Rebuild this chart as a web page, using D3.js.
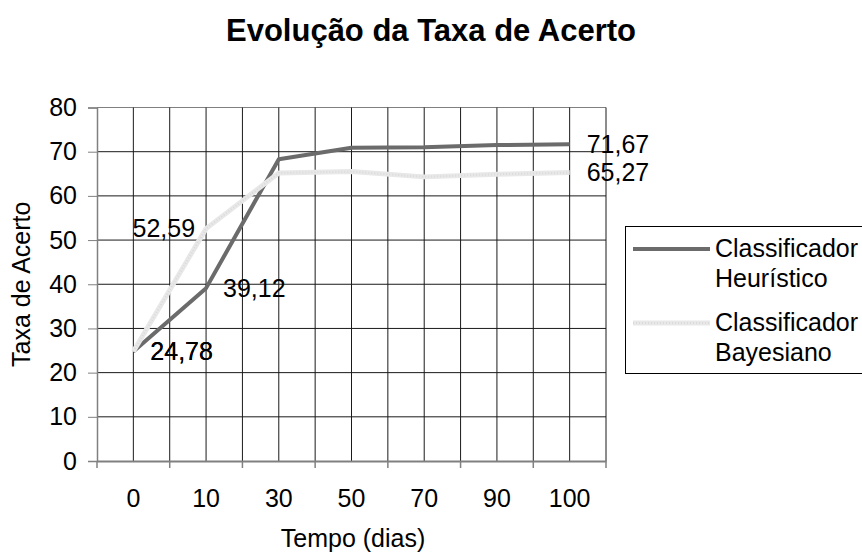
<!DOCTYPE html>
<html>
<head>
<meta charset="utf-8">
<script src="https://cdn.jsdelivr.net/npm/d3@7"></script>
<style>
  body { margin: 0; background: #fff; }
  svg { display: block; font-family: "Liberation Sans", Arial, sans-serif; }
</style>
</head>
<body>
<script>
// Time points (days) shown along the x axis
const categories = ["0", "10", "30", "50", "70", "90", "100"];
// Accuracy rate per classifier
const heuristico = [24.78, 39.12, 68.3, 70.9, 71.0, 71.5, 71.67];
const bayesiano  = [24.78, 52.59, 65.2, 65.5, 64.3, 64.9, 65.27];
const yTicks = [0, 10, 20, 30, 40, 50, 60, 70, 80];
const seriesNames = [["Classificador", "Heurístico"], ["Classificador", "Bayesiano"]];
// Indices of points that carry a value label
const labelledPoints = [0, 1, 6];

const W = 862, H = 554;
const M = { left: 97, right: 256, top: 107.5, bottom: 93 };

const svg = d3.select("body").append("svg").attr("width", W).attr("height", H);

const x = d3.scaleBand().domain(categories).range([M.left, W - M.right]).padding(0);
const y = d3.scaleLinear().domain([0, 80]).range([H - M.bottom, M.top]);
const cx = c => x(c) + x.bandwidth() / 2;
const fmt = v => d3.format(".2f")(v).replace(".", ",");

// Title
svg.append("text")
  .attr("x", 431).attr("y", 41)
  .attr("text-anchor", "middle")
  .attr("font-size", 31).attr("font-weight", "bold")
  .text("Evolução da Taxa de Acerto");

// Grid: horizontal lines at every tick, vertical lines at band edges and centres
const grid = svg.append("g").attr("stroke", "#1a1a1a").attr("stroke-width", 1);
grid.selectAll("line.h").data(yTicks.slice(1)).join("line")
  .attr("x1", M.left).attr("x2", W - M.right)
  .attr("y1", d => y(d)).attr("y2", d => y(d))
  .attr("stroke", d => d === 80 ? "#808080" : "#1a1a1a");
const vPos = [];
categories.forEach(c => { vPos.push(x(c) + x.bandwidth()); vPos.push(cx(c)); });
grid.selectAll("line.v").data(vPos).join("line")
  .attr("x1", d => d).attr("x2", d => d)
  .attr("y1", y(80)).attr("y2", y(0));

// Y axis
const yAxis = svg.append("g")
  .attr("transform", `translate(${M.left},0)`)
  .call(d3.axisLeft(y).tickValues(yTicks).tickSize(9).tickPadding(11));
yAxis.selectAll("text").attr("font-size", 25).attr("fill", "#000").attr("font-family", "Liberation Sans, Arial, sans-serif");
yAxis.selectAll("line").attr("stroke", "#808080");
yAxis.select(".domain").attr("stroke", "#808080").attr("stroke-width", 1.5);

// X axis: labels centred on bands, ticks on band boundaries
const xAxis = svg.append("g")
  .attr("transform", `translate(0,${y(0)})`)
  .call(d3.axisBottom(x).tickSize(0).tickPadding(28));
xAxis.selectAll("text").attr("font-size", 25).attr("fill", "#000").attr("font-family", "Liberation Sans, Arial, sans-serif");
xAxis.select(".domain").attr("stroke", "#808080").attr("stroke-width", 2);
const edges = [M.left].concat(categories.map(c => x(c) + x.bandwidth()));
xAxis.selectAll("line.edge").data(edges).join("line")
  .attr("class", "edge")
  .attr("x1", d => d).attr("x2", d => d)
  .attr("y1", 0).attr("y2", 7)
  .attr("stroke", "#808080").attr("stroke-width", 1.5);

// Axis titles
svg.append("text")
  .attr("transform", `translate(30,${(y(0) + y(80)) / 2}) rotate(-90)`)
  .attr("text-anchor", "middle").attr("font-size", 25)
  .text("Taxa de Acerto");
svg.append("text")
  .attr("x", 353).attr("y", 547)
  .attr("text-anchor", "middle").attr("font-size", 25)
  .text("Tempo (dias)");

// Series lines
const line = d3.line().x((d, i) => cx(categories[i])).y(d => y(d));
svg.append("path").datum(heuristico)
  .attr("d", line).attr("fill", "none")
  .attr("stroke", "#6b6b6b").attr("stroke-width", 4).attr("stroke-linejoin", "round");
svg.append("path").datum(bayesiano)
  .attr("d", line).attr("fill", "none")
  .attr("stroke", "#e8e8e8").attr("stroke-width", 5).attr("stroke-linejoin", "round");
svg.append("path").datum(bayesiano)
  .attr("d", line).attr("fill", "none")
  .attr("stroke", "#dadada").attr("stroke-width", 2).attr("stroke-dasharray", "1,2");

// Value labels: to the right of the point, except where the Bayesian label would sit on the other line
function addLabels(values, leftSide) {
  labelledPoints.forEach(i => {
    const left = leftSide.includes(i);
    svg.append("text")
      .attr("x", cx(categories[i]) + (left ? -11 : 17))
      .attr("y", y(values[i]))
      .attr("dy", "0.35em")
      .attr("text-anchor", left ? "end" : "start")
      .attr("font-size", 25)
      .text(fmt(values[i]));
  });
}
addLabels(heuristico, []);
addLabels(bayesiano, [1]);

// Legend
const lg = svg.append("g");
lg.append("rect")
  .attr("x", 625.5).attr("y", 226.5).attr("width", 260).attr("height", 147)
  .attr("fill", "#fff").attr("stroke", "#000").attr("stroke-width", 1);
const legendStyles = [
  { stroke: "#6b6b6b", width: 4, y: 249 },
  { stroke: "#e8e8e8", width: 5, y: 323 }
];
legendStyles.forEach((s, k) => {
  lg.append("line").attr("x1", 633).attr("x2", 710).attr("y1", s.y).attr("y2", s.y)
    .attr("stroke", s.stroke).attr("stroke-width", s.width);
  if (k === 1) {
    lg.append("line").attr("x1", 633).attr("x2", 710).attr("y1", s.y).attr("y2", s.y)
      .attr("stroke", "#dadada").attr("stroke-width", 2).attr("stroke-dasharray", "1,2");
  }
  seriesNames[k].forEach((t, j) => {
    lg.append("text").attr("x", 715).attr("y", s.y + 8 + j * 30)
      .attr("font-size", 25).text(t);
  });
});
</script>
</body>
</html>
